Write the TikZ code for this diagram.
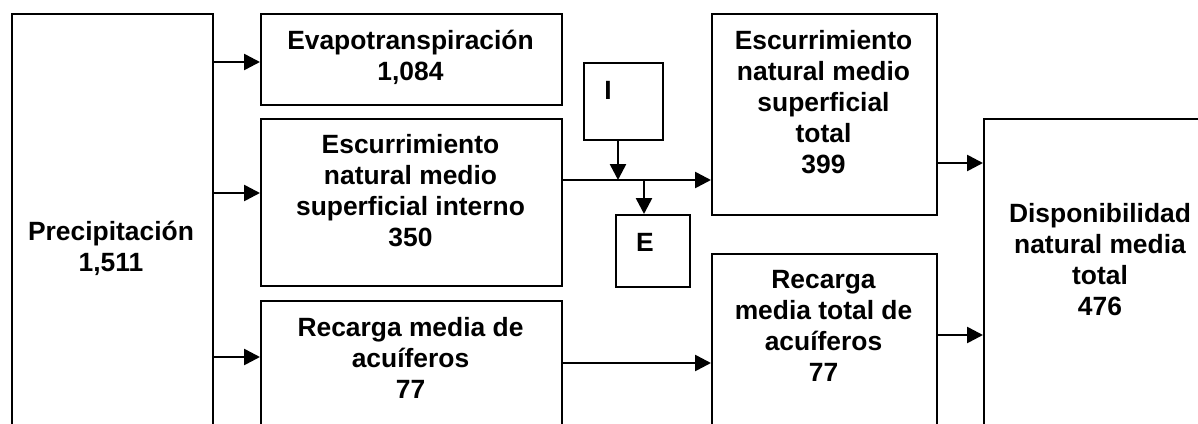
\documentclass[tikz,border=0pt]{standalone}
\usepackage{fontspec}
\setmainfont{Liberation Sans}
\usetikzlibrary{arrows.meta}
\begin{document}
\begin{tikzpicture}[x=0.5pt,y=-0.5pt,
 box/.style={draw, line width=1pt, inner sep=0pt, anchor=north west},
 txt/.style={align=center, font=\fontsize{13.2}{15.5}\selectfont\bfseries, inner sep=0pt},
 arr/.style={line width=1.3pt, -{Triangle[length=8pt,width=8pt]}}]
\useasboundingbox (0,0) rectangle (1198,423);
\clip (0,0) rectangle (1198,423);
% boxes
\node[box, minimum width=100.5pt, minimum height=218.5pt] (prec) at (11,13) {};
\node[box, minimum width=150.5pt, minimum height=45.5pt] (evap) at (260,13) {};
\node[box, minimum width=150.5pt, minimum height=83.5pt] (escint) at (260,118) {};
\node[box, minimum width=150.5pt, minimum height=75pt] (recm) at (260,300) {};
\node[box, minimum width=39.5pt, minimum height=38.5pt] (ipt) at (583,62) {};
\node[box, minimum width=37pt, minimum height=36pt] (ept) at (615,214) {};
\node[box, minimum width=112.5pt, minimum height=100.5pt] (esct) at (711,13) {};
\node[box, minimum width=112.5pt, minimum height=98.5pt] (rect) at (711,253) {};
\node[box, minimum width=113.5pt, minimum height=166pt] (disp) at (983,118) {};
% texts
\node[txt] (tprec) at (111,248) {Precipitación\\1,511};
\node[txt] (tevap) at (410.5,57) {Evapotranspiración\\1,084};
\node[txt] (tescint) at (410.5,191) {Escurrimiento\\natural medio\\superficial interno\\350};
\node[txt] (trecm) at (410.5,358) {Recarga media de\\acuíferos\\77};
\node[txt] (ti) at (608,90) {I};
\node[txt] (te) at (645,242) {E};
\node[txt] (tesct) at (823.5,102) {Escurrimiento\\natural medio\\superficial\\total\\399};
\node[txt] (trect) at (823.5,325.5) {Recarga\\media total de\\acuíferos\\77};
\node[txt] (tdisp) at (1100,260) {Disponibilidad\\natural media\\total\\476};
% connectors
\draw[arr] (prec.east |- 0,62) -- (evap.west |- 0,62);
\draw[arr] (prec.east |- 0,193) -- (escint.west |- 0,193);
\draw[arr] (prec.east |- 0,357) -- (recm.west |- 0,357);
\draw[arr] (escint.east |- 0,180) -- (esct.west |- 0,180);
\coordinate (jin) at ([xshift=-2.75pt]ipt.south |- 0,180);
\coordinate (jout) at ([xshift=-4.5pt]ept.north |- 0,180);
\draw[arr] ([xshift=-2.75pt]ipt.south) -- (jin);
\draw[arr] (jout) -- ([xshift=-4.5pt]ept.north);
\draw[arr] (esct.east |- 0,163) -- (disp.west |- 0,163);
\draw[arr] (recm.east |- 0,363) -- (rect.west |- 0,363);
\draw[arr] (rect.east |- 0,335) -- (disp.west |- 0,335);
\end{tikzpicture}
\end{document}
